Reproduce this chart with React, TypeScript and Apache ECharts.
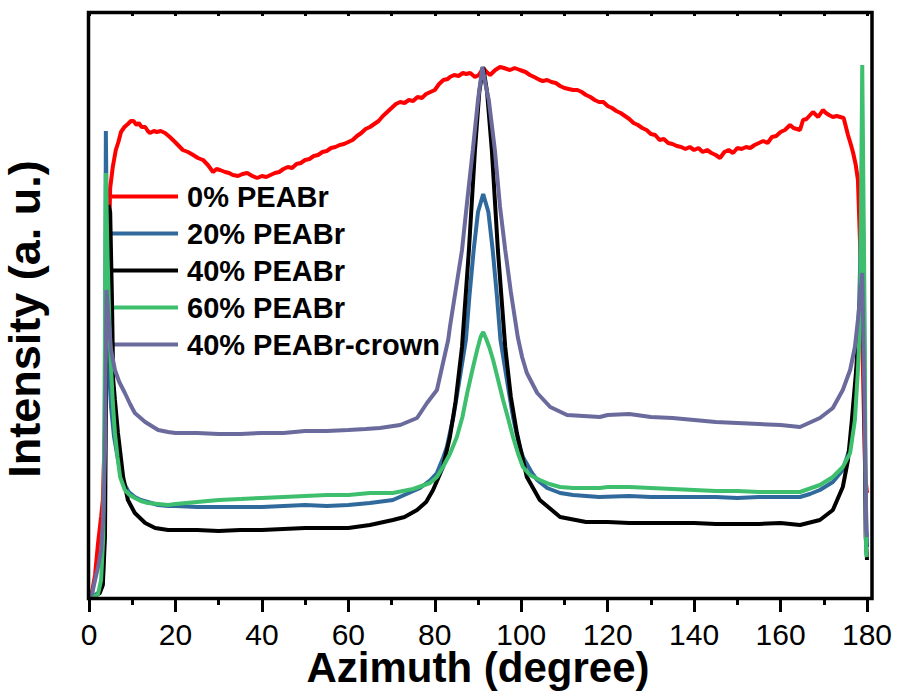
import React, { useEffect, useRef } from 'react';
import * as echarts from 'echarts';

const xTickValues = [0, 20, 40, 60, 80, 100, 120, 140, 160, 180];
const seriesNames = ['0% PEABr', '20% PEABr', '40% PEABr', '60% PEABr', '40% PEABr-crown'];

const peabr0: number[][] = [
  [0,0],[0.7,5],[1.4,22],[2.1,54],[2.8,80],[3.2,97],[3.7,170],[4.3,300],[4.9,409],[5.5,430],[6.2,447],[6.8,455],[7.4,465],[8.2,470],[9.0,473],[9.7,476],[10.3,476],[11.0,472],[11.5,474],[12.2,470],[13.0,470],[13.6,466],[14.1,464],[15.0,466],[15.7,465],[16.6,466],[17.6,464],[18.7,460],[19.9,455],[20.8,451],[21.7,447],[22.9,445],[24.1,442],[25.2,439],[26.4,437],[27.5,432],[28.7,425],[29.5,428],[30.3,427],[31.5,425],[32.4,424],[33.3,422],[34.5,421],[35.5,423],[36.6,424],[37.8,421],[38.9,419],[40,421],[41,420],[42,422],[43,424],[44,425],[45,428],[46,430],[47,429],[48,433],[49,434],[50,437],[51,438],[52,441],[53,442],[54,445],[55,446],[56,449],[57,450],[58,452],[59,453],[60,455],[61,457],[62,461],[63,464],[64,468],[65,470],[66,473],[67,476],[68,481],[69,485],[70,489],[71,493],[72,495],[73,494],[74,497],[75,496],[76,500],[77,499],[78,503],[79,505],[80,507],[81,513],[82,517],[83,518],[83.5,520],[84.5,522],[85.5,521],[86.5,524],[87.3,523],[88.2,524],[89.3,520],[90.2,522],[91.2,529],[92,525],[92.8,522],[94,527],[95.1,530],[96,529],[97.4,527],[98.5,529],[99.7,527],[101,525],[102,522],[103,520],[104.3,517],[105,516],[106,517],[107,515],[108,514],[109,511],[110,509],[111,508],[112,507],[113,507],[114,505],[115,502],[116,500],[117,497],[118,495],[119,495],[120,491],[121,489],[122,486],[123,484],[124,481],[125,478],[126,474],[127,472],[128,469],[129,467],[130,463],[131,462],[132,457],[133,458],[134,454],[135,453],[136,451],[137,450],[138,448],[139,450],[140,447],[141,449],[142,445],[143,447],[144,444],[145,442],[146,439],[147,445],[148,447],[149,444],[150,449],[151,448],[152,450],[153,449],[154,452],[155,454],[156,456],[157,454],[158,460],[159,461],[160,465],[161,467],[162.2,472],[163,469],[164.5,467],[165.2,477],[166,478],[167.5,485],[168.7,480],[169.8,487],[170.5,484],[171.2,482],[172.1,480],[173,481],[173.8,480],[174.6,479],[175.6,462],[176.3,452],[176.8,444],[177.4,432],[177.9,417],[178.5,340],[179.2,200],[179.6,120],[180,104]
];

const peabr20: number[][] = [
  [0,0],[1.4,2],[2.5,5],[3.2,14],[3.6,80],[3.9,466],[4.2,330],[4.6,230],[5.1,190],[5.8,160],[6.6,140],[7.4,122],[8.3,112],[9.2,105],[10.6,100],[12,97],[13.6,95],[16,92],[18.3,91],[20,91],[25,90],[30,90],[35,90],[40,90],[45,91],[50,92],[55,91],[60,92],[65,94],[70.3,97],[74,104],[76.6,109],[79,117],[80.5,124],[82,140],[82.8,150],[84.3,180],[85.6,214],[87.2,257],[88,300],[89,347],[90,385],[91.2,403],[92.4,385],[93.4,347],[94.4,300],[95.2,257],[96.8,214],[98.1,180],[99.6,150],[100.4,140],[102.5,124],[103.7,117],[106,109],[109,104],[112,102],[118,100],[125,101],[130,100],[135,100],[140,100],[145,100],[150,99],[155,100],[160,100],[164.5,100],[166.8,103],[169.1,107],[172.1,115],[174.4,127],[176.1,150],[177.2,194],[177.9,247],[178.4,330],[178.9,450],[179.3,300],[179.6,120],[180,50]
];

const peabr40: number[][] = [
  [0,0],[1.4,1],[2.5,4],[3.2,12],[3.7,60],[4.1,300],[4.5,392],[4.9,385],[5.3,300],[5.6,217],[6.0,197],[6.7,164],[7.9,120],[9.0,97],[10.6,84],[13,74],[15.3,69],[18.3,67],[20,67],[25,67],[30,66],[35,67],[40,67],[45,68],[50,69],[55,69],[60,69],[65,72],[70.3,77],[73,80],[75.9,87],[78,95],[79.6,107],[81.9,130],[83.5,160],[84.8,195],[86.3,250],[87.9,347],[89.3,447],[90.3,505],[91.2,530],[92.1,505],[93.2,447],[94.6,347],[96.3,250],[97.6,200],[99,164],[101.3,120],[104.3,97],[109,80],[115,75],[120,75],[125,74],[130,74],[135,74],[140,74],[145,73],[150,73],[155,73],[160,74],[164.5,72],[169.1,77],[172.1,87],[174.4,110],[175.6,137],[176.5,177],[177.5,227],[178.4,297],[178.9,342],[179.4,200],[179.7,60],[180,37]
];

const peabr60: number[][] = [
  [0,0],[1.4,1],[2.1,3],[2.8,17],[3.3,60],[3.6,200],[3.9,424],[4.3,340],[4.9,247],[5.5,195],[6.0,164],[6.6,140],[7.2,120],[8.3,107],[9.4,102],[10.6,99],[12,96],[13.6,94],[16,93],[18.3,92],[20,93],[25,95],[30,97],[35,98],[40,99],[45,100],[50,101],[55,102],[60,102],[65,104],[70.3,104],[75,108],[78.9,114],[80.5,120],[81.9,130],[83.5,143],[85.1,160],[86.4,180],[87.5,204],[88.7,227],[89.8,247],[90.6,260],[91.2,265],[91.9,258],[92.6,250],[93.5,237],[94.6,218],[95.8,197],[97,178],[98.1,160],[99.3,143],[100.4,130],[102,122],[104.3,117],[106.5,113],[109,110],[112,109],[118.2,109],[120,110],[125,110],[130,109],[135,108],[140,107],[145,106],[150,106],[155,105],[160,105],[164.5,105],[169.1,112],[172.1,120],[174.4,130],[176.1,144],[177.2,177],[177.9,227],[178.4,277],[178.9,532],[179.4,300],[179.8,44],[180,40]
];

const peabr40crown: number[][] = [
  [0,0],[0.7,3],[1.4,17],[2.1,30],[2.8,47],[3.3,80],[3.7,147],[4.05,307],[4.5,280],[5.1,247],[6.0,227],[7.0,215],[8.3,204],[9.5,193],[10.6,184],[13,175],[16,167],[18.3,165],[20,164],[25,164],[30,163],[35,163],[40,164],[45,164],[50,166],[55,166],[60,167],[64,168],[67.3,169],[72,172],[75.9,179],[78.2,194],[80.5,207],[81.9,234],[83.1,257],[83.5,270],[85.1,314],[86.3,347],[87.6,400],[88.8,447],[90,497],[91,530],[92,507],[92.5,497],[93.9,447],[95.1,390],[96.3,347],[97.6,305],[99.2,260],[100.2,240],[101.3,224],[103.7,204],[106.7,190],[110.6,182],[118.2,180],[120,182],[125,183],[130,180],[135,179],[140,177],[145,175],[150,174],[155,173],[160,172],[164.5,170],[169.1,179],[172.1,189],[174.4,207],[176.1,227],[177.2,250],[177.9,277],[178.9,324],[179.4,200],[179.8,67],[180,60]
];

const allData = [peabr0, peabr20, peabr40, peabr60, peabr40crown];
const colors = ['#ff0000', '#306a9c', '#000000', '#3dbf6e', '#6a6a9c'];
const FONT = '"Liberation Sans", Arial, sans-serif';

export default function App() {
  const ref = useRef<HTMLDivElement>(null);
  useEffect(() => {
    if (!ref.current) return;
    const chart = echarts.init(ref.current, undefined, { renderer: 'svg' });
    chart.setOption({
      animation: false,
      backgroundColor: '#ffffff',
      grid: { left: 89, right: 34, top: 12, bottom: 100, containLabel: false, outerBoundsMode: 'none' },
      legend: {
        orient: 'vertical',
        left: 112,
        top: 182,
        padding: 0,
        itemGap: 8,
        itemWidth: 66,
        itemHeight: 4,
        icon: 'rect',
        data: seriesNames,
        textStyle: { fontFamily: FONT, fontSize: 29, fontWeight: 'bold', color: '#000', padding: [0, 0, 0, 4] },
      },
      graphic: [
        {
          type: 'rect',
          shape: { x: 88.5, y: 12.5, width: 783.5, height: 586 },
          style: { fill: 'none', stroke: '#000', lineWidth: 3.5 },
          z: 10,
          silent: true,
        },
      ],
      xAxis: [
        {
          type: 'value',
          min: 0,
          max: 180,
          interval: 20,
          position: 'bottom',
          axisLine: { show: false },
          axisTick: { show: true, length: 15, lineStyle: { color: '#000', width: 3 } },
          minorTick: { show: true, splitNumber: 2, length: 8, lineStyle: { color: '#000', width: 3 } },
          splitLine: { show: false },
          axisLabel: {
            margin: 24,
            fontFamily: FONT,
            fontSize: 30,
            lineHeight: 26,
            color: '#000',
            formatter: (v: number) => (xTickValues.includes(v) ? String(v) : ''),
          },
          name: 'Azimuth (degree)',
          nameLocation: 'middle',
          nameGap: 53,
          nameMoveOverlap: false,
          nameTextStyle: { fontFamily: FONT, fontSize: 42, fontWeight: 'bold', color: '#000', lineHeight: 34 },
        },
        {
          type: 'value',
          min: 0,
          max: 180,
          interval: 10,
          position: 'top',
          axisLine: { show: false },
          axisTick: { show: true, inside: true, length: 4, lineStyle: { color: '#000', width: 3 } },
          axisLabel: { show: false },
          splitLine: { show: false },
        },
      ],
      yAxis: {
        type: 'value',
        min: 0,
        max: 585,
        axisLine: { show: false },
        axisTick: { show: false },
        axisLabel: { show: false },
        splitLine: { show: false },
        name: 'Intensity (a. u.)',
        nameLocation: 'middle',
        nameGap: 42,
        nameMoveOverlap: false,
        nameTextStyle: { fontFamily: FONT, fontSize: 45, fontWeight: 'bold', color: '#000', padding: [0, 29, 0, 0] },
      },
      series: allData.map((d, i) => ({
        name: seriesNames[i],
        type: 'line',
        data: d,
        showSymbol: false,
        symbol: 'none',
        smooth: false,
        lineStyle: { color: colors[i], width: 4 },
        itemStyle: { color: colors[i] },
        z: 2 + i,
      })),
    });
    return () => chart.dispose();
  }, []);
  return <div ref={ref} style={{ width: 901, height: 697, position: 'absolute', left: 0, top: 0 }} />;
}
